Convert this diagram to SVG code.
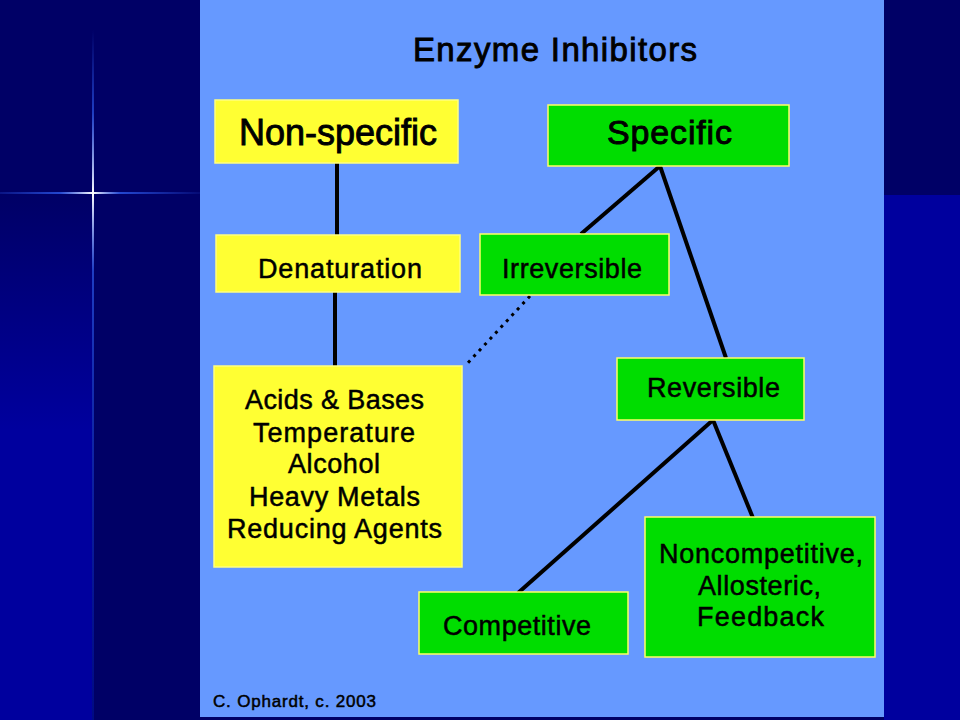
<svg xmlns="http://www.w3.org/2000/svg" width="960" height="720" viewBox="0 0 960 720">
  <defs>
    <linearGradient id="leftGrad" x1="0" y1="195" x2="0" y2="430" gradientUnits="userSpaceOnUse">
      <stop offset="0" stop-color="#000066"/>
      <stop offset="1" stop-color="#00009E"/>
    </linearGradient>
    <linearGradient id="hGlow" x1="0" y1="0" x2="200" y2="0" gradientUnits="userSpaceOnUse">
      <stop offset="0" stop-color="#3366FF" stop-opacity="0.2"/>
      <stop offset="0.3" stop-color="#3366FF" stop-opacity="0.7"/>
      <stop offset="0.465" stop-color="#FFFFFF" stop-opacity="1"/>
      <stop offset="0.6" stop-color="#3366FF" stop-opacity="0.7"/>
      <stop offset="1" stop-color="#3366FF" stop-opacity="0.1"/>
    </linearGradient>
    <linearGradient id="vGlow" x1="0" y1="30" x2="0" y2="720" gradientUnits="userSpaceOnUse">
      <stop offset="0" stop-color="#3366FF" stop-opacity="0"/>
      <stop offset="0.12" stop-color="#3366FF" stop-opacity="0.6"/>
      <stop offset="0.237" stop-color="#FFFFFF" stop-opacity="1"/>
      <stop offset="0.35" stop-color="#3366FF" stop-opacity="0.6"/>
      <stop offset="1" stop-color="#0022CC" stop-opacity="0.3"/>
    </linearGradient>
    <style>
      .yel { fill: #FFFF33; stroke: #FFFF80; stroke-width: 1.5; }
      .grn { fill: #00DD00; stroke: #FFFF66; stroke-width: 1.5; }
      .t { font-family: "Liberation Sans", Arial, sans-serif; fill: #000; stroke: #000; stroke-width: 0.5; }
      .big { stroke-width: 0.9; }
      .m { font-size: 27px; }
      .link { stroke: #000; stroke-width: 4; fill: none; stroke-linecap: butt; }
      .dot { stroke: #000; stroke-width: 3; fill: none; stroke-dasharray: 3 5; }
    </style>
  </defs>

  <!-- background -->
  <rect x="0" y="0" width="960" height="720" fill="#000066"/>
  <rect x="0" y="195" width="92" height="525" fill="url(#leftGrad)"/>
  <rect x="884" y="195" width="76" height="525" fill="#00009E"/>
  <rect x="0" y="192" width="200" height="2" fill="url(#hGlow)"/>
  <rect x="92" y="30" width="2" height="690" fill="url(#vGlow)"/>

  <!-- panel -->
  <rect x="200" y="0" width="684" height="717" fill="#6699FF"/>

  <text class="t big" x="413" y="61" font-size="33" textLength="284" lengthAdjust="spacing">Enzyme Inhibitors</text>

  <!-- connectors -->
  <g id="connectors">
    <line class="link" x1="337" y1="163" x2="337" y2="235"/>
    <line class="link" x1="335" y1="292" x2="335" y2="366"/>
    <line class="link" x1="660" y1="166" x2="581" y2="234"/>
    <line class="link" x1="660" y1="166" x2="726" y2="358"/>
    <line class="link" x1="713" y1="420" x2="518" y2="593"/>
    <line class="link" x1="713" y1="420" x2="753" y2="518"/>
    <line class="dot" x1="530" y1="296" x2="465" y2="366"/>
  </g>

  <g id="node-nonspecific">
    <rect class="yel" x="215" y="100" width="243" height="63"/>
    <text class="t big" x="239" y="145" font-size="36" textLength="198" lengthAdjust="spacing">Non-specific</text>
  </g>

  <g id="node-specific">
    <rect class="grn" x="548" y="105" width="241" height="61"/>
    <text class="t big" x="607" y="144" font-size="34" textLength="125" lengthAdjust="spacing">Specific</text>
  </g>

  <g id="node-denaturation">
    <rect class="yel" x="216" y="235" width="244" height="57"/>
    <text class="t m" x="258" y="278" textLength="164" lengthAdjust="spacing">Denaturation</text>
  </g>

  <g id="node-irreversible">
    <rect class="grn" x="480" y="234" width="189" height="61"/>
    <text class="t m" x="502" y="278" textLength="140" lengthAdjust="spacing">Irreversible</text>
  </g>

  <g id="node-agents">
    <rect class="yel" x="214" y="366" width="248" height="201"/>
    <text class="t m" x="245" y="409" textLength="179" lengthAdjust="spacing">Acids &amp; Bases</text>
    <text class="t m" x="253" y="442" textLength="162" lengthAdjust="spacing">Temperature</text>
    <text class="t m" x="288" y="473" textLength="92" lengthAdjust="spacing">Alcohol</text>
    <text class="t m" x="249" y="506" textLength="171" lengthAdjust="spacing">Heavy Metals</text>
    <text class="t m" x="227" y="538" textLength="215" lengthAdjust="spacing">Reducing Agents</text>
  </g>

  <g id="node-reversible">
    <rect class="grn" x="617" y="358" width="187" height="62"/>
    <text class="t m" x="647" y="397" textLength="133" lengthAdjust="spacing">Reversible</text>
  </g>

  <g id="node-competitive">
    <rect class="grn" x="419" y="592" width="209" height="62"/>
    <text class="t m" x="443" y="635" textLength="148" lengthAdjust="spacing">Competitive</text>
  </g>

  <g id="node-noncompetitive">
    <rect class="grn" x="645" y="517" width="230" height="140"/>
    <text class="t m" x="659" y="563" textLength="204" lengthAdjust="spacing">Noncompetitive,</text>
    <text class="t m" x="698" y="595" textLength="123" lengthAdjust="spacing">Allosteric,</text>
    <text class="t m" x="697" y="626" textLength="127" lengthAdjust="spacing">Feedback</text>
  </g>

  <text class="t" x="213" y="707" font-size="17" textLength="163" lengthAdjust="spacing">C. Ophardt, c. 2003</text>
</svg>
